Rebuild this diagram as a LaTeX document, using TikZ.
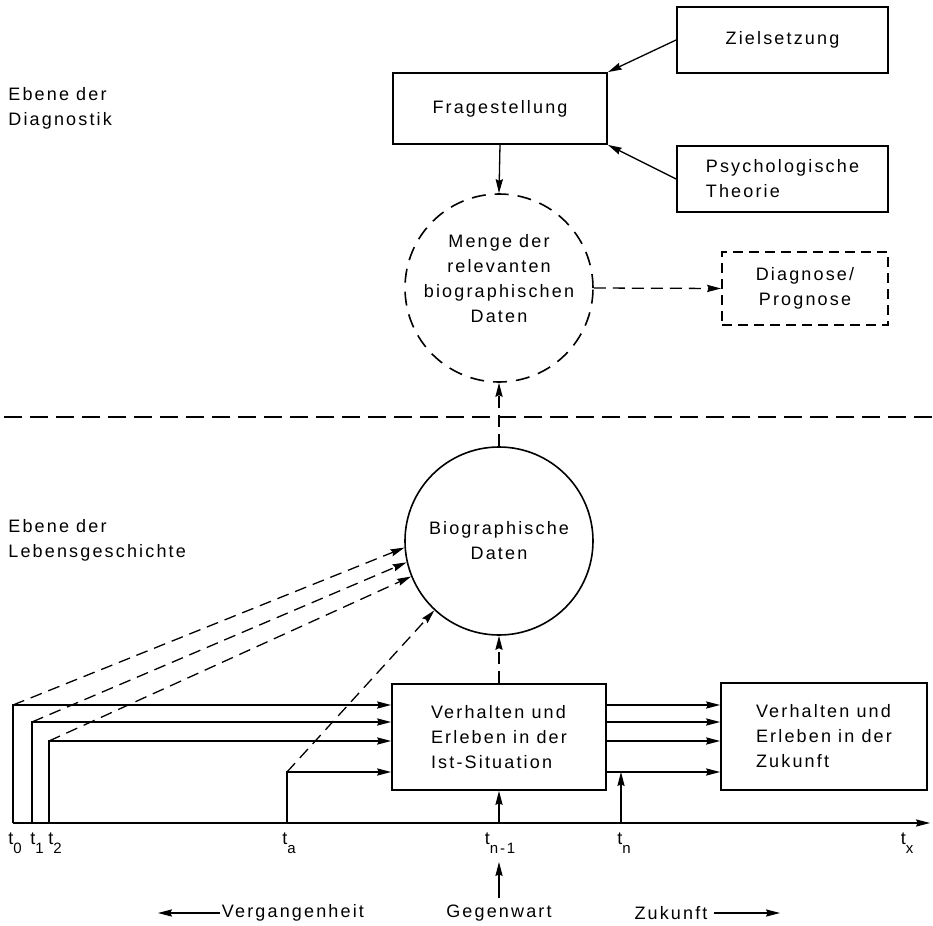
\documentclass[tikz,border=0pt]{standalone}
\usepackage{fontspec}
\setmainfont{Liberation Sans}[LetterSpace=12]
\usetikzlibrary{arrows.meta}
\newcommand\tsub[1]{\raisebox{-0.9ex}{\fontsize{7.5}{7.5}\selectfont #1}}
\begin{document}
\begin{tikzpicture}[x=0.5pt,y=-0.5pt,
  every node/.style={font=\fontsize{9}{12.5}\selectfont, inner sep=0pt},
  box/.style={draw, line width=0.9pt, rectangle},
  dbox/.style={box, dash pattern=on 5pt off 3pt},
  circ/.style={draw, circle, line width=0.8pt, minimum size=94pt},
  arr/.style={-{Stealth[length=7pt,width=3.6pt,inset=0.8pt]}, line width=0.65pt},
  darr/.style={arr, dash pattern=on 6pt off 3.5pt},
  sep/.style={line width=0.7pt, dash pattern=on 9pt off 4pt}]
\useasboundingbox (0,0) rectangle (933,926);

% boxes and circles
\node[box, minimum width=105.5pt, minimum height=33pt] (ziel) at (782.5,40) {Zielsetzung};
\node[box, minimum width=105.5pt, minimum height=33pt, align=left] (psych) at (782.5,179) {Psychologische\\Theorie};
\node[box, minimum width=107pt, minimum height=35.5pt] (frage) at (500,108.5) {Fragestellung};
\node[circ, dash pattern=on 7pt off 4.5pt] (menge) at (499,288) {};
\node[align=center] (mengetxt) at (499,279) {Menge der\\relevanten\\biographischen\\Daten};
\node[dbox, minimum width=83pt, minimum height=36.5pt, align=center] (diag) at (805,288.5) {Diagnose/\\Prognose};
\node[circ, align=center] (bio) at (499,541) {Biographische\\Daten};
\node[box, minimum width=107pt, minimum height=53pt, align=left] (ist) at (499,737) {Verhalten und\\Erleben in der\\Ist-Situation};
\node[box, minimum width=103pt, minimum height=53.5pt, align=left] (zuk) at (824,736.5) {Verhalten und\\Erleben in der\\Zukunft};

% level labels
\node[anchor=west, align=left] (ebdiag) at (8,108) {Ebene der\\Diagnostik};
\node[anchor=west, align=left] (eblebe) at (8,540) {Ebene der\\Lebensgeschichte};

% separator
\coordinate (s0) at (4,417);
\coordinate (s1) at (933,417);
\draw[sep] (s0) -- (s1);

% upper connectors
\draw[arr] (ziel.west) -- (frage.north east);
\draw[arr] (psych.west) -- (frage.south east);
\draw[arr] (frage.south) -- (menge.north);
\draw[darr] (menge.east) -- (diag.west);
\draw[darr] (bio.north) -- (menge.south);
\draw[darr] (ist.north) -- (bio.south);

% time axis
\coordinate (a0) at (13,823);
\coordinate (a1) at (32,823);
\coordinate (a2) at (49,823);
\coordinate (aa) at (287,823);
\coordinate (an1) at (499,823);
\coordinate (an) at (621,823);
\coordinate (ax) at (930,823);
\coordinate (c0) at (13,705);
\coordinate (c1) at (32,722);
\coordinate (c2) at (49,741);
\coordinate (ca) at (287,772);

\draw[arr] (a0) -- (ax);
\draw[arr] (a0) -- (c0) -- (c0 -| ist.west);
\draw[arr] (a1) -- (c1) -- (c1 -| ist.west);
\draw[arr] (a2) -- (c2) -- (c2 -| ist.west);
\draw[arr] (aa) -- (ca) -- (ca -| ist.west);

\draw[arr] (c0 -| ist.east) -- (c0 -| zuk.west);
\draw[arr] (c1 -| ist.east) -- (c1 -| zuk.west);
\draw[arr] (c2 -| ist.east) -- (c2 -| zuk.west);
\draw[arr] (ca -| ist.east) -- (ca -| zuk.west);

\draw[arr] (an) -- (an |- ca);
\draw[arr] (an1) -- (ist.south);

\draw[darr] (c0) -- (bio.184);
\draw[darr] (c1) -- (bio.193);
\draw[darr] (c2) -- (bio.202);
\draw[darr] (ca) -- (bio.227);

% axis labels
\node (l0) at (15,843) {t\tsub{0}};
\node (l1) at (37,843) {t\tsub{1}};
\node (l2) at (55,843) {t\tsub{2}};
\node (la) at (289,843) {t\tsub{a}};
\node (ln1) at (500,843) {t\tsub{n-1}};
\node (ln) at (624,843) {t\tsub{n}};
\node (lx) at (907,843) {t\tsub{x}};

% bottom labels
\node (verg) at (293,913) {Vergangenheit};
\coordinate (vtip) at (158,913);
\draw[arr, shorten <=1pt] (verg.west) -- (vtip);
\node (gegen) at (499,913) {Gegenwart};
\coordinate (gtip) at (499,862);
\draw[arr, shorten <=3pt] (gegen.north) -- (gtip);
\node (zukt) at (671,913) {Zukunft};
\coordinate (ztip) at (780,913);
\draw[arr, shorten <=3pt] (zukt.east) -- (ztip);
\end{tikzpicture}
\end{document}
